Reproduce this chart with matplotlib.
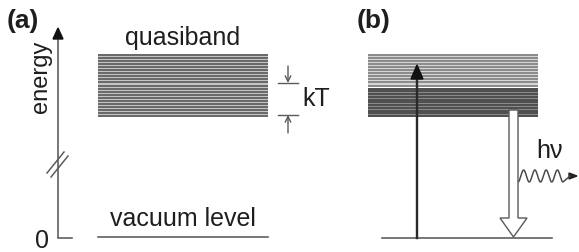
import numpy as np
import matplotlib
matplotlib.use("Agg")
import matplotlib.pyplot as plt
from matplotlib.patches import Polygon

plt.rcParams['font.family'] = ['Liberation Sans', 'DejaVu Sans']

W, H = 579, 252
DPI = 100

# levels in pixel units (y grows downward)
band_top = 55
band_bottom = 116
band_split = 87          # panel (b): light upper part / dark lower part
vacuum_y = 237
n_lines_a = 21
n_lines_b_light = 11
n_lines_b_dark = 11

band_a_x = [98, 268]
band_b_x = [368, 538]
ground_b_x = [382, 552]

panel_labels = ["(a)", "(b)"]
texts = {"quasiband": (183, 38), "vacuum level": (183, 219), "kT": (316, 99),
         "hν": (550, 151), "0": (42, 241)}

# photon wiggle
wave_periods = 4
wave_amp = 6
wave_x0, wave_x1, wave_yc = 518, 563, 176

LINE = '#6e6e6e'
DARK = '#2a2a2a'
TXT = '#1e1e1e'
FS = 18

fig = plt.figure(figsize=(W / DPI, H / DPI), dpi=DPI)
ax = fig.add_axes([0, 0, 1, 1])
ax.set_xlim(0, W)
ax.set_ylim(H, 0)
ax.axis('off')


def lw(px):
    return px * 72 / DPI


def band(x, y0, y1, n, line_col, gap_col, px=2.0):
    ax.fill_between(x, y0 - 1, y1 + 1, color=gap_col, lw=0)
    for y in np.linspace(y0, y1, n):
        ax.plot(x, [y, y], color=line_col, lw=lw(px), solid_capstyle='butt')


# ---- panel (a) ----
ax.text(7, 21, panel_labels[0], fontsize=19, fontweight='bold', color=TXT, va='center', ha='left')
ax.text(357, 21, panel_labels[1], fontsize=19, fontweight='bold', color=TXT, va='center', ha='left')

# energy axis
ax.plot([58, 58, 72], [40, vacuum_y + 1, vacuum_y + 1], color='#5a5a5a', lw=lw(1.6), solid_joinstyle='miter')
ax.add_patch(Polygon([[58, 28], [53, 39], [63, 39]], closed=True, color='#111111', zorder=4))
ax.text(41, 77, "energy", rotation=90, fontsize=17, color=TXT, ha='center', va='center')
ax.plot([47, 64], [173, 152], color='#5a5a5a', lw=lw(1.5))
ax.plot([51, 68], [177, 156], color='#5a5a5a', lw=lw(1.5))

band(band_a_x, band_top, band_bottom, n_lines_a, '#6a6a6a', '#c4c4c4')
ax.plot(band_a_x, [vacuum_y, vacuum_y], color='#5a5a5a', lw=lw(1.6))

for key in ["quasiband", "vacuum level", "kT", "0"]:
    x, y = texts[key]
    ax.text(x, y, key, fontsize=FS, color=TXT, ha='center', va='center')

# kT markers
ax.plot([278, 298], [83, 83], color='#5a5a5a', lw=lw(1.4))
ax.annotate('', xy=(288, 83), xytext=(288, 66),
            arrowprops=dict(arrowstyle='->', color='#5a5a5a', lw=lw(1.4), shrinkA=0, shrinkB=0))
ax.plot([278, 298], [115, 115], color='#5a5a5a', lw=lw(1.4))
ax.annotate('', xy=(288, 115), xytext=(288, 133),
            arrowprops=dict(arrowstyle='->', color='#5a5a5a', lw=lw(1.4), shrinkA=0, shrinkB=0))

# ---- panel (b) ----
band(band_b_x, band_top, band_split - 1.5, n_lines_b_light, '#8c8c8c', '#d6d6d6')
band(band_b_x, band_split + 1.5, band_bottom, n_lines_b_dark, '#505050', '#8a8a8a')
ax.plot(ground_b_x, [vacuum_y + 1, vacuum_y + 1], color='#5a5a5a', lw=lw(1.6))

# excitation arrow
ax.plot([417, 417], [vacuum_y + 1, 76], color=DARK, lw=lw(2.4), zorder=4)
ax.add_patch(Polygon([[417, 65], [411, 79], [423, 79]], closed=True, color='#111111', zorder=5))

# emission arrow (hollow)
sx0, sx1, hx0, hx1 = 509, 518, 500, 527
ax.add_patch(Polygon([[sx0, 110], [sx1, 110], [sx1, 218], [hx1, 218], [513.5, 237],
                      [hx0, 218], [sx0, 218]], closed=True, facecolor='white',
                     edgecolor='#5a5a5a', lw=lw(1.4), zorder=3))

# photon
wave_x = np.linspace(wave_x0, wave_x1, 200)
wave_y = wave_yc + wave_amp * np.cos((wave_x - wave_x0) / (wave_x1 - wave_x0) * wave_periods * 2 * np.pi)
ax.plot(np.r_[wave_x, 570], np.r_[wave_y, wave_yc], color='#4a4a4a', lw=lw(1.5))
ax.add_patch(Polygon([[577, wave_yc], [569, wave_yc - 3], [569, wave_yc + 3]], closed=True, color='#222222'))
ax.text(*texts["hν"], "hν", fontsize=FS, color=TXT, ha='center', va='center')

fig.savefig('out.png', dpi=DPI)
